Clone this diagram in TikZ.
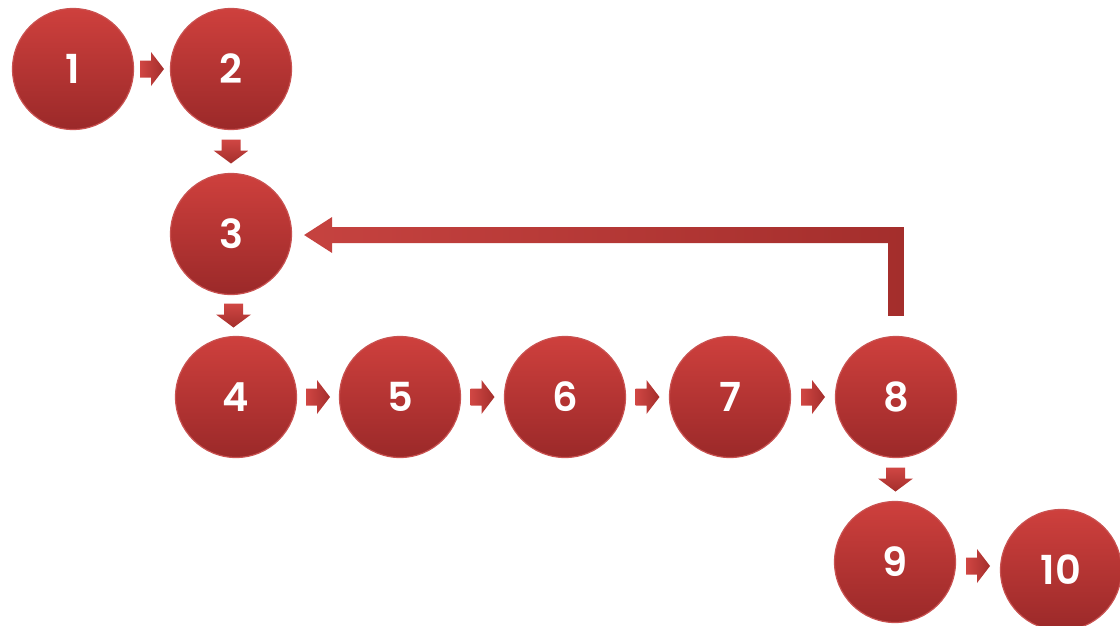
\documentclass[tikz,border=0pt]{standalone}
\usepackage{fontspec}
\setmainfont{Poppins}
\newfontfamily\numfont{Poppins SemiBold}
\usetikzlibrary{calc}

\definecolor{redtop}{HTML}{CE403D}
\definecolor{redbot}{HTML}{9B2929}
\definecolor{redrim}{HTML}{C95251}
\definecolor{arrlight}{HTML}{D04643}
\definecolor{arrdark}{HTML}{A42E2C}

\tikzset{
  stage/.style={circle, minimum size=121pt, inner sep=0pt,
    top color=redtop, bottom color=redbot, draw=redrim, line width=1.2pt,
    text=white, font=\numfont\fontsize{40}{42}\selectfont},
  hflow/.style={left color=arrlight, right color=arrdark, draw=none},
  vflow/.style={top color=arrlight, bottom color=arrdark, draw=none},
  loopflow/.style={left color=arrlight!95!black, right color=arrdark, draw=none},
}

% short block arrow in the gap between two stages, pointing right
\newcommand\flowright[2]{%
  \path ($(#1.east)!0.5!(#2.west)$) coordinate (m);
  \shade[hflow] ($(m)+(-12,-8.5)$) -- ($(m)+(-1,-8.5)$) -- ($(m)+(-1,-17)$)
    -- ($(m)+(12,0)$) -- ($(m)+(-1,17)$) -- ($(m)+(-1,8.5)$)
    -- ($(m)+(-12,8.5)$) -- cycle;}

% short block arrow in the gap between two stages, pointing down
\newcommand\flowdown[2]{%
  \path ($(#1.south)!0.5!(#2.north)$) coordinate (m);
  \shade[vflow] ($(m)+(-9.5,-12)$) -- ($(m)+(-9.5,-1)$) -- ($(m)+(-17.5,-1)$)
    -- ($(m)+(0,12)$) -- ($(m)+(17.5,-1)$) -- ($(m)+(9.5,-1)$)
    -- ($(m)+(9.5,-12)$) -- cycle;}

\begin{document}
\begin{tikzpicture}[x=1pt, y=-1pt]
  \useasboundingbox (0,0) rectangle (1120,625);
  \clip (0,0) rectangle (1120,625);

  % stages
  \node[stage] (n1)  at (73,69)    {1};
  \node[stage] (n2)  at (231,69)   {2};
  \node[stage] (n3)  at (231,234)  {3};
  \node[stage] (n4)  at (236,397)  {4};
  \node[stage] (n5)  at (400,397)  {5};
  \node[stage] (n6)  at (565,397)  {6};
  \node[stage] (n7)  at (730,397)  {7};
  \node[stage] (n8)  at (896,397)  {8};
  \node[stage] (n9)  at (895,562)  {9};
  \node[stage] (n10) at (1061,570) {10};

  % forward flow
  \flowright{n1}{n2}
  \flowdown{n2}{n3}
  \flowdown{n3}{n4}
  \flowright{n4}{n5}
  \flowright{n5}{n6}
  \flowright{n6}{n7}
  \flowright{n7}{n8}
  \flowdown{n8}{n9}
  \flowright{n9}{n10}

  % feedback loop from 8 back to 3
  \coordinate (lp) at ($(n3.center)+(0,1)$);
  \shade[loopflow]
    ($(n8.north)+(-8,-20)$) -- ($(lp -| n8.north)+(-8,8)$)
    -- ($(lp -| n3.east)+(40,8)$) -- ($(lp -| n3.east)+(40,18)$)
    -- ($(lp -| n3.east)+(12,0)$)
    -- ($(lp -| n3.east)+(40,-18)$) -- ($(lp -| n3.east)+(40,-8)$)
    -- ($(lp -| n8.north)+(8,-8)$) -- ($(n8.north)+(8,-20)$) -- cycle;
\end{tikzpicture}
\end{document}
